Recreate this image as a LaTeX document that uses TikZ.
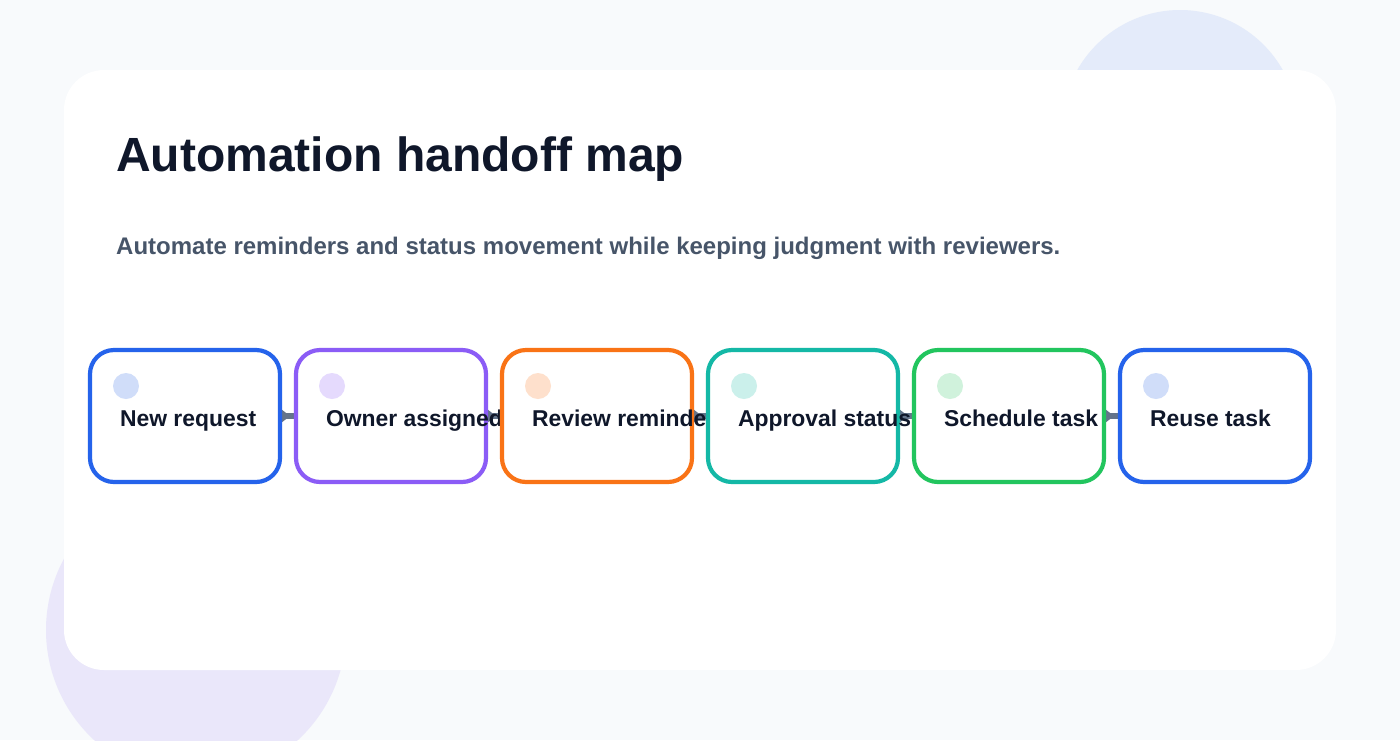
\documentclass[tikz,border=0pt]{standalone}
\usepackage{fontspec}
\setmainfont{Liberation Sans}
\usetikzlibrary{calc}
\definecolor{bg}{HTML}{F8FAFC}
\definecolor{blobblue}{HTML}{E4EBFA}
\definecolor{blobviolet}{HTML}{EAE7FA}
\definecolor{ink}{HTML}{0F172A}
\definecolor{sub}{HTML}{475569}
\definecolor{edge}{HTML}{64748B}
\definecolor{cblue}{HTML}{2563EB}
\definecolor{cblueL}{HTML}{D0DDF9}
\definecolor{cviolet}{HTML}{8B5CF6}
\definecolor{cvioletL}{HTML}{E5DAFD}
\definecolor{corange}{HTML}{F97316}
\definecolor{corangeL}{HTML}{FEE0CC}
\definecolor{cteal}{HTML}{14B8A6}
\definecolor{ctealL}{HTML}{CBF0EB}
\definecolor{cgreen}{HTML}{22C55E}
\definecolor{cgreenL}{HTML}{D0F2DC}
\begin{document}
\begin{tikzpicture}[x=1pt,y=-1pt,
  box/.style={draw=#1, line width=4.2pt, fill=white, rounded corners=24pt,
    minimum width=190pt, minimum height=132pt, inner sep=0pt, outer sep=0pt},
  dot/.style={circle, fill=#1, minimum size=26pt, inner sep=0pt, outer sep=0pt},
  lbl/.style={anchor=base west, inner sep=0pt, outer sep=0pt,
    font=\fontsize{22.9}{27}\selectfont\bfseries, text=ink},
  conn/.style={line width=6pt, draw=edge},
  conntip/.style={fill=edge}]
\clip (0,0) rectangle (1400,740);
\fill[bg] (0,0) rectangle (1400,740);
\fill[blobblue] (1180,128) circle (118);
\fill[blobviolet] (196,630) circle (150);
\fill[white, rounded corners=40pt] (64,70) rectangle (1336,670);
\node[anchor=base west, inner sep=0pt, text=ink, font=\fontsize{48}{56}\selectfont\bfseries] (title) at (116,171) {Automation handoff map};
\node[anchor=base west, inner sep=0pt, text=sub, font=\fontsize{24}{28}\selectfont\bfseries] (subtitle) at (116,254.5) {Automate reminders and status movement while keeping judgment with reviewers.};
\path (185,416) coordinate (p1) (391,416) coordinate (p2) (597,416) coordinate (p3)
      (803,416) coordinate (p4) (1009,416) coordinate (p5) (1215,416) coordinate (p6);
\foreach \i/\j in {1/2,2/3,3/4,4/5,5/6}{
  \draw[conn] ($(p\i)+(95,0)$) -- ($(p\j)+(-95,0)$);
  \fill[conntip] ($(p\i)+(96,-7)$) -- ($(p\i)+(105,0)$) -- ($(p\i)+(96,7)$) -- cycle;
}
\foreach \i/\c/\t in {1/cblue/New request,2/cviolet/Owner assigned,3/corange/Review reminder,4/cteal/Approval status,5/cgreen/Schedule task,6/cblue/Reuse task}{
  \node[box=\c] (b\i) at (p\i) {};
  \node[dot=\c L] (d\i) at ($(p\i)+(-59,-30)$) {};
  \begin{scope}
    \clip ($(p\i)+(-95,-70)$) rectangle ($(p\i)+(109,70)$);
    \node[lbl] (t\i) at ($(p\i)+(-65,10)$) {\t};
  \end{scope}
}
\end{tikzpicture}
\end{document}
